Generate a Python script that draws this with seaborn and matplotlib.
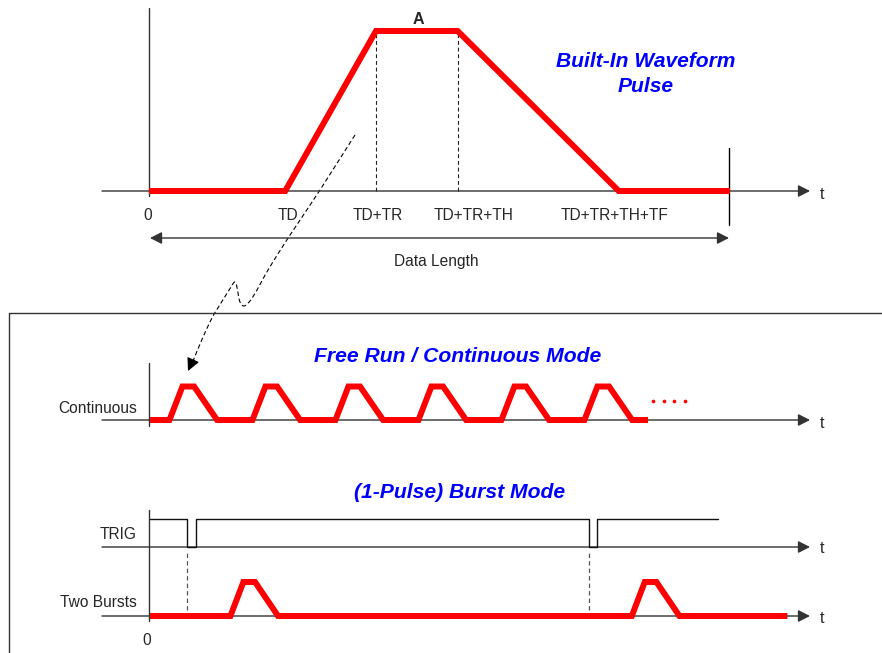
import numpy as np
import pandas as pd
import matplotlib
matplotlib.use("Agg")
import matplotlib.pyplot as plt
import seaborn as sns

# ---------------- data ----------------
# pulse parameters (arbitrary time units)
TD, TR, TH, TF = 3.0, 2.0, 1.8, 3.55
DATA_LEN = 12.8
AMP = 1.0
pulse_t = [0.0, TD, TD + TR, TD + TR + TH, TD + TR + TH + TF, DATA_LEN]
pulse_v = [0.0, 0.0, AMP, AMP, 0.0, 0.0]
tick_labels = ["0", "TD", "TD+TR", "TD+TR+TH", "TD+TR+TH+TF"]
tick_nudge_px = [-1, 3, 2, 16, -4]

# continuous mode
n_cont = 6
dots_t = [77.6, 79.3, 80.8, 82.5]
dots_v = [0.56, 0.56, 0.56, 0.56]

# burst mode
trig_t = [0.0, 5.7, 5.7, 7.1, 7.1, 67.7, 67.7, 68.95, 68.95, 87.6]
trig_v = [1, 1, 0, 0, 1, 1, 0, 0, 1, 1]
trig_falls = [5.7, 67.7]
burst_starts = [9.4, 71.3]
burst_end = 98.3

# ---------------- figure ----------------
sns.set_theme(style="white")
plt.rcParams["font.family"] = ["Liberation Sans", "DejaVu Sans"]

W, H = 882, 653
fig = plt.figure(figsize=(W / 100, H / 100), dpi=100)
fig.patch.set_facecolor("white")

ov = fig.add_axes([0, 0, 1, 1])
ov.set_xlim(0, W)
ov.set_ylim(H, 0)
ov.axis("off")

AX_C = "#333333"
RED = "#FF0000"
BLUE = "#0000FF"
FS = 11.2
RED_LW = 4.3


def panel(x0, y0, sx, sy):
    ax = fig.add_axes([0, 0, 1, 1])
    ax.set_xlim(-x0 / sx, (W - x0) / sx)
    ax.set_ylim((y0 - H) / sy, y0 / sy)
    ax.axis("off")
    ax.patch.set_alpha(0)
    return ax


def axis_arrow(x1, y, x2):
    ov.annotate("", xy=(x2, y), xytext=(x1, y),
                arrowprops=dict(arrowstyle="-|>,head_length=0.55,head_width=0.28",
                                color=AX_C, lw=1.0, shrinkA=0, shrinkB=0,
                                mutation_scale=13))


def red_line(ax, t, v):
    df = pd.DataFrame({"t": t, "v": v})
    sns.lineplot(data=df, x="t", y="v", ax=ax, color=RED, lw=RED_LW,
                 sort=False, estimator=None, solid_joinstyle="miter",
                 solid_capstyle="butt", legend=False)
    ax.set_xlabel("")
    ax.set_ylabel("")


# ---------------- top: built-in waveform ----------------
ov.plot([149, 149], [8, 196], color=AX_C, lw=1.0)
axis_arrow(102, 191, 810)
ov.text(822, 199, "t", fontsize=11.5, ha="center", va="baseline")
ov.plot([729, 729], [148, 225], color="black", lw=1.0)
ov.annotate("", xy=(729, 238), xytext=(150, 238),
            arrowprops=dict(arrowstyle="<|-|>,head_length=0.55,head_width=0.28",
                            color=AX_C, lw=1.0, shrinkA=0, shrinkB=0,
                            mutation_scale=13))
ov.text(436, 266, "Data Length", fontsize=FS, ha="center", va="baseline")

ax_top = panel(149, 191, 581 / DATA_LEN, 160)
ax_top.vlines([TD + TR, TD + TR + TH], 0, AMP, colors="#222222", lw=0.8,
              linestyles=(0, (3.5, 2.5)))
red_line(ax_top, pulse_t, pulse_v)
for lab, tx, dx in zip(tick_labels, pulse_t[:5], tick_nudge_px):
    ax_top.annotate(lab, xy=(tx, 0), xytext=(dx, -29), textcoords="offset pixels",
                    fontsize=FS, ha="center", va="baseline")
ax_top.annotate("A", xy=((TD + TR + TD + TR + TH) / 2, AMP), xytext=(2, 7),
                textcoords="offset pixels", fontsize=11.5, fontweight="bold",
                ha="center", va="baseline")

ov.text(646, 67, "Built-In Waveform", fontsize=15.1, fontweight="bold",
        fontstyle="italic", color=BLUE, ha="center", va="baseline")
ov.text(646, 92, "Pulse", fontsize=15.1, fontweight="bold",
        fontstyle="italic", color=BLUE, ha="center", va="baseline")


# ---------------- dashed connector ----------------
def catmull(pts, n=14):
    pts = np.asarray(pts, float)
    P = np.vstack([pts[0], pts, pts[-1]])
    out = []
    for i in range(1, len(P) - 2):
        p0, p1, p2, p3 = P[i - 1], P[i], P[i + 1], P[i + 2]
        for s in np.linspace(0, 1, n, endpoint=False):
            s2, s3 = s * s, s * s * s
            out.append(0.5 * (2 * p1 + (-p0 + p2) * s
                              + (2 * p0 - 5 * p1 + 4 * p2 - p3) * s2
                              + (-p0 + 3 * p1 - 3 * p2 + p3) * s3))
    out.append(P[-2])
    return np.array(out)


conn = catmull([(355, 135), (320, 190), (290, 235), (268, 270), (257, 290),
                (250, 301), (244, 306), (240, 302), (238, 293), (236.5, 285),
                (234.5, 282), (231, 287), (221, 303), (213, 316), (203, 337),
                (196, 354), (192.5, 362)])
ov.plot(conn[:, 0], conn[:, 1], color="black", lw=0.8, ls=(0, (4, 2.5)))
ov.annotate("", xy=(188, 371), xytext=(192.5, 361),
            arrowprops=dict(arrowstyle="-|>,head_length=0.6,head_width=0.3",
                            color="black", lw=0.8, shrinkA=0, shrinkB=0,
                            mutation_scale=13))

# ---------------- lower frame ----------------
ov.plot([9, W], [313, 313], color=AX_C, lw=1.0)
ov.plot([9, 9], [313, H], color=AX_C, lw=1.0)

# ---------------- continuous mode ----------------
ov.text(457.5, 362, "Free Run / Continuous Mode", fontsize=15.2, fontweight="bold",
        fontstyle="italic", color=BLUE, ha="center", va="baseline")
ov.plot([149, 149], [363, 426], color=AX_C, lw=1.0)
axis_arrow(102, 420, 810)
ov.text(822, 428, "t", fontsize=11.5, ha="center", va="baseline")
ov.text(137, 413, "Continuous", fontsize=FS, ha="right", va="baseline")

SX_LOW = 83 / DATA_LEN
ax_c = panel(150, 420, SX_LOW, 33.5)
cont_t, cont_v = [], []
for k in range(n_cont):
    cont_t += [k * DATA_LEN + t for t in pulse_t]
    cont_v += pulse_v
red_line(ax_c, cont_t, cont_v)
sns.scatterplot(x=dots_t, y=dots_v, ax=ax_c, color=RED, s=7, linewidth=0,
                legend=False)

# ---------------- burst mode ----------------
ov.text(459.5, 498, "(1-Pulse) Burst Mode", fontsize=15.2, fontweight="bold",
        fontstyle="italic", color=BLUE, ha="center", va="baseline")
ov.plot([149, 149], [510, 621], color=AX_C, lw=1.0)
axis_arrow(102, 547, 810)
axis_arrow(102, 616, 810)
ov.text(822, 553, "t", fontsize=11.5, ha="center", va="baseline")
ov.text(822, 623, "t", fontsize=11.5, ha="center", va="baseline")
ov.text(137, 539, "TRIG", fontsize=FS, ha="right", va="baseline")
ov.text(137, 607, "Two Bursts", fontsize=FS, ha="right", va="baseline")
ov.text(147, 645, "0", fontsize=FS, ha="center", va="baseline")

ax_trig = panel(150, 546.5, SX_LOW, 27.5)
sns.lineplot(x=trig_t, y=trig_v, ax=ax_trig, color="#111111", lw=1.0,
             sort=False, estimator=None, legend=False)

ax_b = panel(150, 616, SX_LOW, 34)
ax_b.vlines(trig_falls, 0.18, 1.87, colors="#555555", lw=0.9,
            linestyles=(0, (3.5, 2.5)))
b_t, b_v = [0.0], [0.0]
for s in burst_starts:
    b_t += [s + t for t in pulse_t]
    b_v += pulse_v
b_t.append(burst_end)
b_v.append(0.0)
red_line(ax_b, b_t, b_v)

fig.savefig("out.png", dpi=100, facecolor="white")
